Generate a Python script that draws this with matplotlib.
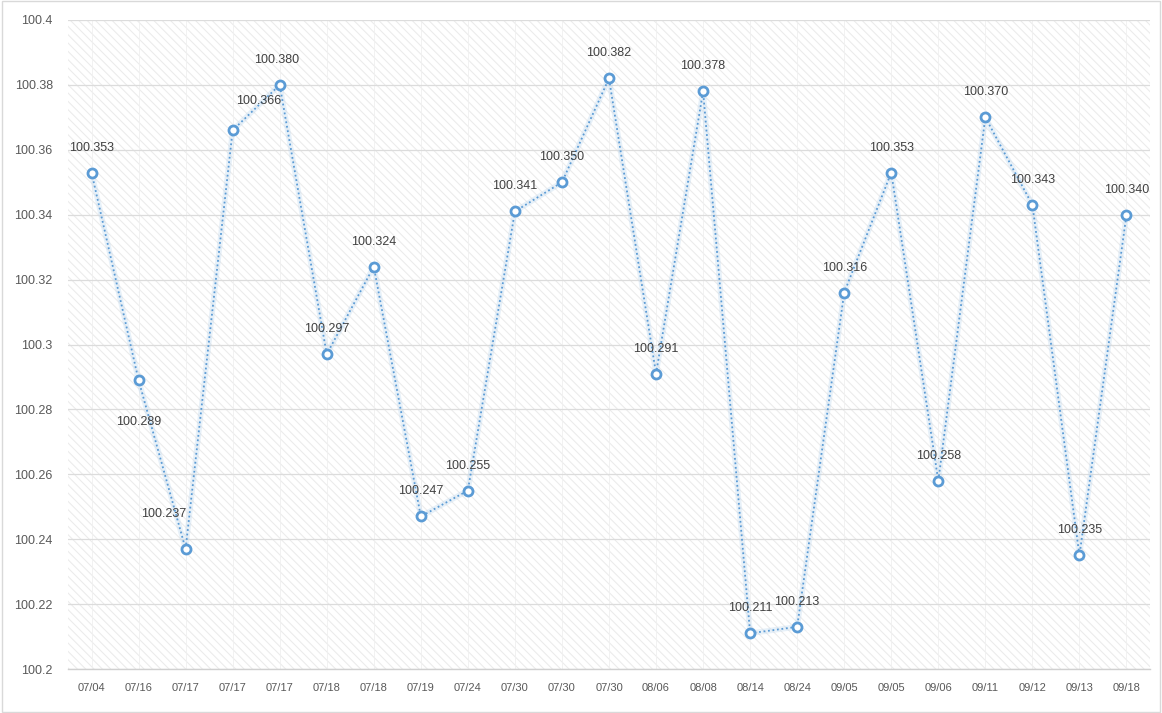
import matplotlib
matplotlib.use("Agg")
import matplotlib.pyplot as plt
from matplotlib.patches import Rectangle
from matplotlib.ticker import FuncFormatter, MultipleLocator

dates = ["07/04", "07/16", "07/17", "07/17", "07/17", "07/18", "07/18", "07/19",
         "07/24", "07/30", "07/30", "07/30", "08/06", "08/08", "08/14", "08/24",
         "09/05", "09/05", "09/06", "09/11", "09/12", "09/13", "09/18"]
values = [100.353, 100.289, 100.237, 100.366, 100.380, 100.297, 100.324, 100.247,
          100.255, 100.341, 100.350, 100.382, 100.291, 100.378, 100.211, 100.213,
          100.316, 100.353, 100.258, 100.370, 100.343, 100.235, 100.340]

# label offsets in points (most labels sit above the marker)
label_offsets = [(0, 18)] * len(values)
label_offsets[1] = (0, -30)
label_offsets[2] = (-16, 25)
label_offsets[3] = (19, 21)
label_offsets[4] = (-2, 18)

line_color = "#5b9bd5"
grid_color = "#dcdcdc"
text_color = "#404040"

plt.rcParams["font.family"] = ["Liberation Sans", "DejaVu Sans"]
plt.rcParams["hatch.linewidth"] = 0.8

fig = plt.figure(figsize=(11.62, 7.13), dpi=100)
ax = fig.add_axes([68 / 1162, 1 - 669 / 713, (1150 - 68) / 1162, (669 - 20) / 713])

x = list(range(len(values)))

# hatched plot background
ax.add_patch(Rectangle((0, 0), 1, 1, transform=ax.transAxes, facecolor="white",
                       edgecolor="#ececec", lw=0, hatch="\\\\\\\\", zorder=0))

# soft glow under the line
ax.plot(x, values, color="#bdd7ee", lw=4, alpha=0.35, zorder=2, solid_capstyle="round")
ax.plot(x, values, color=line_color, lw=1.3, ls=(0, (1, 1.5)), zorder=3)
ax.plot(x, values, ls="none", marker="o", ms=6.5, mfc="white", mec=line_color, mew=2,
        zorder=4)

for xi, v, off in zip(x, values, label_offsets):
    ax.annotate(f"{v:.3f}", (xi, v), xytext=off, textcoords="offset points",
                ha="center", va="center", fontsize=9, color=text_color, zorder=5)

ax.set_xlim(-0.5, len(values) - 0.5)
ax.set_ylim(100.2, 100.4)
ax.yaxis.set_major_locator(MultipleLocator(0.02))
ax.yaxis.set_major_formatter(FuncFormatter(lambda v, p: f"{round(v, 3):g}"))
ax.set_xticks(x)
ax.set_xticklabels(dates)

ax.grid(axis="y", color=grid_color, lw=0.9, zorder=1)
ax.grid(axis="x", color="#f0f0f0", lw=0.6, zorder=1)
ax.set_axisbelow(True)
ax.tick_params(axis="both", length=0, colors="#595959")
ax.tick_params(axis="y", labelsize=9, pad=11)
ax.tick_params(axis="x", labelsize=8, pad=10)
for s in ["top", "right", "left"]:
    ax.spines[s].set_visible(False)
ax.spines["bottom"].set_color("#d0d0d0")
ax.spines["bottom"].set_linewidth(1.0)

# thin border around the whole chart
fig.patches.append(Rectangle((0.002, 0.002), 0.996, 0.996, transform=fig.transFigure,
                             fill=False, edgecolor="#d9d9d9", lw=1))

fig.savefig("out.png", dpi=100)
